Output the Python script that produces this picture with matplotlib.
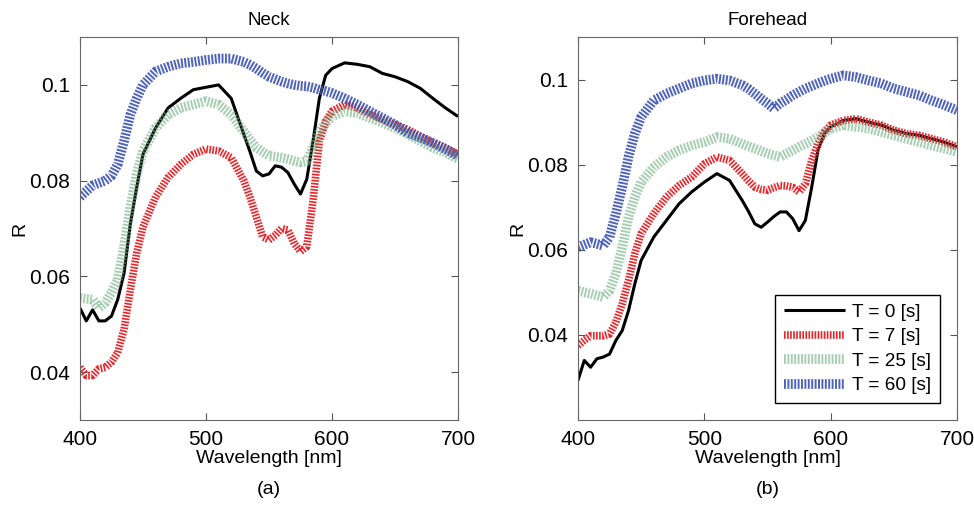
import matplotlib.pyplot as plt

plt.rcParams['font.family'] = ['Liberation Sans', 'DejaVu Sans']

# wavelength grid shared by every curve [nm]
wavelength = [400, 405, 410, 415, 420, 425, 430, 435, 440, 445, 450,
              460, 470, 480, 490, 500, 510, 520,
              530, 535, 540, 545, 550, 555, 560, 565, 570, 575, 580, 585, 590, 595, 600,
              610, 620, 630, 640, 650, 660, 670, 680, 690, 700]

labels = ['T = 0 [s]', 'T = 7 [s]', 'T = 25 [s]', 'T = 60 [s]']

# Neck reflectance
neck_t0 = [0.0534, 0.0507, 0.0530, 0.0507, 0.0507, 0.0517, 0.0552, 0.0607, 0.0710, 0.0786, 0.0855,
           0.0910, 0.0952, 0.0972, 0.0990, 0.0995, 0.1000, 0.0972,
           0.0897, 0.0860, 0.0820, 0.0810, 0.0814, 0.0831, 0.0828, 0.0817, 0.0793, 0.0772, 0.0803, 0.0883, 0.0972, 0.1020, 0.1034,
           0.1046, 0.1043, 0.1038, 0.1024, 0.1017, 0.1007, 0.0993, 0.0972, 0.0952, 0.0934]
neck_t7 = [0.0410, 0.0393, 0.0393, 0.0407, 0.0410, 0.0421, 0.0441, 0.0490, 0.0572, 0.0648, 0.0703,
           0.0766, 0.0807, 0.0834, 0.0855, 0.0866, 0.0862, 0.0848,
           0.0800, 0.0765, 0.0724, 0.0683, 0.0676, 0.0686, 0.0700, 0.0697, 0.0669, 0.0652, 0.0662, 0.0759, 0.0883, 0.0924, 0.0945,
           0.0959, 0.0952, 0.0938, 0.0928, 0.0917, 0.0907, 0.0893, 0.0879, 0.0869, 0.0855]
neck_t25 = [0.0555, 0.0553, 0.0552, 0.0534, 0.0545, 0.0566, 0.0593, 0.0662, 0.0745, 0.0814, 0.0862,
            0.0910, 0.0938, 0.0952, 0.0959, 0.0966, 0.0959, 0.0938,
            0.0903, 0.0885, 0.0869, 0.0860, 0.0852, 0.0850, 0.0848, 0.0845, 0.0841, 0.0838, 0.0841, 0.0869, 0.0903, 0.0920, 0.0934,
            0.0945, 0.0941, 0.0931, 0.0921, 0.0910, 0.0897, 0.0883, 0.0869, 0.0859, 0.0845]
neck_t60 = [0.0766, 0.0778, 0.0790, 0.0795, 0.0800, 0.0810, 0.0834, 0.0883, 0.0938, 0.0972, 0.1000,
            0.1028, 0.1038, 0.1045, 0.1048, 0.1052, 0.1055, 0.1055,
            0.1048, 0.1042, 0.1034, 0.1025, 0.1017, 0.1012, 0.1007, 0.1003, 0.1000, 0.0998, 0.0997, 0.0994, 0.0990, 0.0987, 0.0983,
            0.0972, 0.0959, 0.0945, 0.0931, 0.0917, 0.0900, 0.0890, 0.0879, 0.0866, 0.0852]

# Forehead reflectance
fore_t0 = [0.0293, 0.0340, 0.0324, 0.0344, 0.0348, 0.0355, 0.0387, 0.0410, 0.0457, 0.0520, 0.0575,
           0.0630, 0.0669, 0.0708, 0.0736, 0.0759, 0.0779, 0.0763,
           0.0716, 0.0690, 0.0661, 0.0653, 0.0665, 0.0678, 0.0689, 0.0689, 0.0673, 0.0645, 0.0669, 0.0747, 0.0834, 0.0873, 0.0889,
           0.0904, 0.0908, 0.0900, 0.0893, 0.0881, 0.0873, 0.0869, 0.0861, 0.0853, 0.0842]
fore_t7 = [0.0375, 0.0387, 0.0398, 0.0398, 0.0398, 0.0402, 0.0430, 0.0473, 0.0528, 0.0591, 0.0638,
           0.0685, 0.0724, 0.0751, 0.0771, 0.0802, 0.0818, 0.0810,
           0.0779, 0.0762, 0.0747, 0.0742, 0.0740, 0.0746, 0.0751, 0.0750, 0.0747, 0.0736, 0.0755, 0.0810, 0.0849, 0.0877, 0.0893,
           0.0904, 0.0908, 0.0900, 0.0893, 0.0881, 0.0873, 0.0869, 0.0861, 0.0853, 0.0842]
fore_t25 = [0.0504, 0.0500, 0.0497, 0.0493, 0.0489, 0.0504, 0.0544, 0.0606, 0.0677, 0.0724, 0.0759,
            0.0794, 0.0818, 0.0834, 0.0845, 0.0853, 0.0865, 0.0861,
            0.0849, 0.0843, 0.0838, 0.0832, 0.0826, 0.0822, 0.0818, 0.0826, 0.0834, 0.0842, 0.0849, 0.0857, 0.0865, 0.0875, 0.0885,
            0.0893, 0.0889, 0.0885, 0.0877, 0.0869, 0.0861, 0.0853, 0.0845, 0.0838, 0.0830]
fore_t60 = [0.0606, 0.0612, 0.0618, 0.0614, 0.0610, 0.0630, 0.0685, 0.0747, 0.0818, 0.0873, 0.0912,
            0.0951, 0.0967, 0.0979, 0.0991, 0.0998, 0.1002, 0.0998,
            0.0987, 0.0978, 0.0967, 0.0955, 0.0944, 0.0932, 0.0944, 0.0953, 0.0963, 0.0971, 0.0979, 0.0985, 0.0991, 0.0997, 0.1002,
            0.1010, 0.1006, 0.0998, 0.0991, 0.0979, 0.0971, 0.0963, 0.0951, 0.0940, 0.0928]

styles = [
    dict(color='black', lw=2.2, alpha=1.0, dashes=None),
    dict(color='#e8262b', lw=5.5, alpha=1.0, dashes=(0.22, 0.18)),
    dict(color='#6fae80', lw=7.0, alpha=0.6, dashes=(0.2, 0.15)),
    dict(color='#3b52b4', lw=7.0, alpha=0.9, dashes=(0.2, 0.15)),
]


def draw_panel(ax, series, title, tag, ylim, legend=False):
    for values, label, st in zip(series, labels, styles):
        line, = ax.plot(wavelength, values, color=st['color'], lw=st['lw'],
                        alpha=st['alpha'], label=label, solid_capstyle='butt',
                        dash_capstyle='butt')
        if st['dashes'] is not None:
            line.set_dashes(st['dashes'])
    ax.set_xlim(400, 700)
    ax.set_ylim(*ylim)
    ax.set_xticks([400, 500, 600, 700])
    ax.set_yticks([0.04, 0.06, 0.08, 0.1])
    ax.set_yticklabels(['0.04', '0.06', '0.08', '0.1'])
    ax.tick_params(direction='in', top=True, right=True, length=5,
                   labelsize=15, color='#555555', pad=7)
    for sp in ax.spines.values():
        sp.set_color('#666666')
    ax.set_xlabel('Wavelength [nm]', fontsize=14, labelpad=1)
    ax.set_ylabel('R', fontsize=14, labelpad=1)
    ax.set_title(title, fontsize=13.5, pad=9)
    ax.text(0.5, -0.158, tag, transform=ax.transAxes, ha='center', va='top',
            fontsize=14)
    if legend:
        ax.legend(loc='lower right', fontsize=13.7, fancybox=False,
                  edgecolor='black', framealpha=1, handlelength=3.2,
                  borderaxespad=0.9, labelspacing=0.38, handletextpad=0.4,
                  borderpad=0.45)


fig = plt.figure(figsize=(9.74, 5.05), dpi=100)
ax1 = fig.add_axes([0.0821, 0.1683, 0.3881, 0.7584])
ax2 = fig.add_axes([0.5934, 0.1683, 0.3891, 0.7584])

draw_panel(ax1, [neck_t0, neck_t7, neck_t25, neck_t60], 'Neck', '(a)', (0.03, 0.11))
draw_panel(ax2, [fore_t0, fore_t7, fore_t25, fore_t60], 'Forehead', '(b)', (0.02, 0.11), legend=True)

fig.savefig('out.png', dpi=100)
